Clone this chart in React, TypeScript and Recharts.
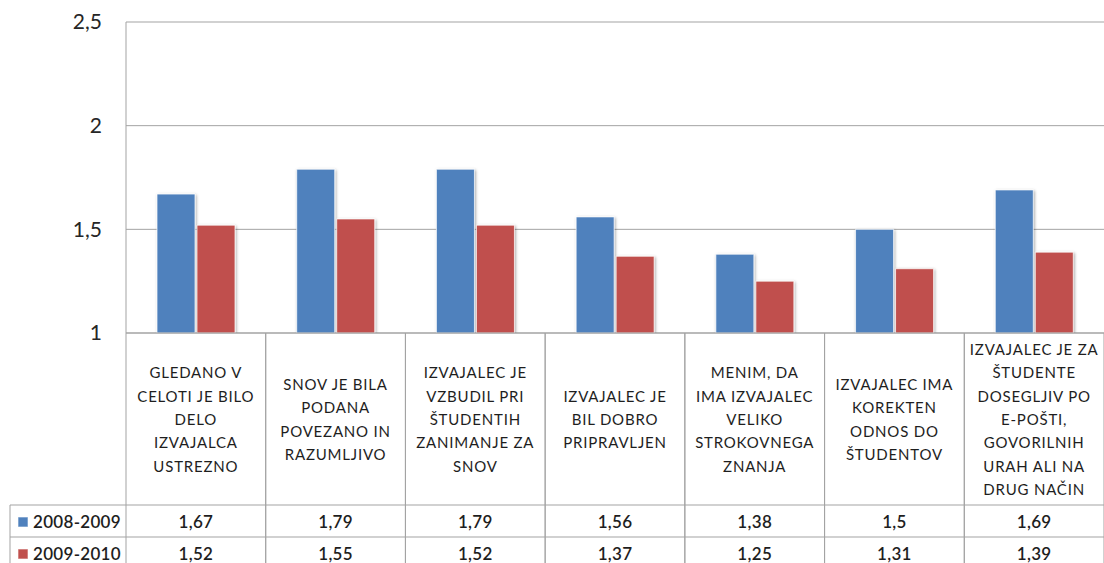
import { Bar, BarChart, CartesianGrid, XAxis, YAxis } from 'recharts'

const CATEGORIES = [
  'GLEDANO V\nCELOTI JE BILO\nDELO\nIZVAJALCA\nUSTREZNO',
  'SNOV JE BILA\nPODANA\nPOVEZANO IN\nRAZUMLJIVO',
  'IZVAJALEC JE\nVZBUDIL PRI\nŠTUDENTIH\nZANIMANJE ZA\nSNOV',
  'IZVAJALEC JE\nBIL DOBRO\nPRIPRAVLJEN',
  'MENIM, DA\nIMA IZVAJALEC\nVELIKO\nSTROKOVNEGA\nZNANJA',
  'IZVAJALEC IMA\nKOREKTEN\nODNOS DO\nŠTUDENTOV',
  'IZVAJALEC JE ZA\nŠTUDENTE\nDOSEGLJIV PO\nE-POŠTI,\nGOVORILNIH\nURAH ALI NA\nDRUG NAČIN',
]
const SERIES_NAMES = ['2008-2009', '2009-2010']
const SERIES_COLORS = ['#4F81BD', '#C0504D']
const VALUES_2008_2009 = [1.67, 1.79, 1.79, 1.56, 1.38, 1.5, 1.69]
const VALUES_2009_2010 = [1.52, 1.55, 1.52, 1.37, 1.25, 1.31, 1.39]
const Y_TICKS = [1, 1.5, 2, 2.5]

const SERIES_VALUES = [VALUES_2008_2009, VALUES_2009_2010]

const data = CATEGORIES.map((name, i) => ({
  name,
  s0: VALUES_2008_2009[i],
  s1: VALUES_2009_2010[i],
}))

const FONT = 'Lato, "Open Sans", sans-serif'
const GRID = '#a3a3a3'
const TEXT = '#1e1e1e'

// table layout
const LABEL_ROW_H = 172
const VALUE_ROW_H = 32
const LEGEND_COL_W = 116
const LINE_H = 23.3

const fmt = (v: number) => String(v).replace('.', ',')

function TableTick(props: any) {
  const { x, y, payload } = props
  const i: number = payload?.index ?? props.index ?? 0
  const half: number = payload?.offset || 70
  const left = x - half
  const right = x + half
  const lines = CATEGORIES[i].split('\n')
  const labelCenter = y + LABEL_ROW_H / 2
  const row1 = y + LABEL_ROW_H
  const row2 = row1 + VALUE_ROW_H
  const row3 = row2 + VALUE_ROW_H
  const bottom = y + 240

  return (
    <g>
      {/* cell borders */}
      <line x1={right} y1={y} x2={right} y2={bottom} stroke={GRID} />
      <line x1={left} y1={y} x2={left} y2={bottom} stroke={GRID} />
      <line x1={left} y1={row1} x2={right} y2={row1} stroke={GRID} />
      <line x1={left} y1={row2} x2={right} y2={row2} stroke={GRID} />
      <line x1={left} y1={row3} x2={right} y2={row3} stroke={GRID} />

      {/* category label */}
      <text
        textAnchor="middle"
        fontFamily={FONT}
        fontSize={15}
        letterSpacing={0.8}
        fill={TEXT}
      >
        {lines.map((ln, k) => (
          <tspan
            key={k}
            x={x}
            y={labelCenter + (k - (lines.length - 1) / 2) * LINE_H}
            dominantBaseline="central"
          >
            {ln}
          </tspan>
        ))}
      </text>

      {/* values */}
      {SERIES_VALUES.map((vals, s) => (
        <text
          key={s}
          x={x}
          y={row1 + VALUE_ROW_H * s + VALUE_ROW_H / 2}
          textAnchor="middle"
          dominantBaseline="central"
          fontFamily={FONT}
          fontSize={17}
          fontWeight={600}
          letterSpacing={0.3}
          fill={TEXT}
        >
          {fmt(vals[i])}
        </text>
      ))}

      {/* legend column, drawn once */}
      {i === 0 && (
        <g>
          <line x1={left - LEGEND_COL_W} y1={row1} x2={left} y2={row1} stroke={GRID} />
          <line x1={left - LEGEND_COL_W} y1={row2} x2={left} y2={row2} stroke={GRID} />
          <line x1={left - LEGEND_COL_W} y1={row3} x2={left} y2={row3} stroke={GRID} />
          <line x1={left - LEGEND_COL_W} y1={row1} x2={left - LEGEND_COL_W} y2={bottom} stroke={GRID} />
          {SERIES_NAMES.map((name, s) => {
            const cy = row1 + VALUE_ROW_H * s + VALUE_ROW_H / 2
            return (
              <g key={name}>
                <rect
                  x={left - LEGEND_COL_W + 8}
                  y={cy - 4}
                  width={10}
                  height={10}
                  fill={SERIES_COLORS[s]}
                  stroke="#ffffff"
                  strokeOpacity={0.6}
                />
                <text
                  x={left - LEGEND_COL_W + 23}
                  y={cy}
                  dominantBaseline="central"
                  fontFamily={FONT}
                  fontSize={17}
                  fontWeight={600}
                  letterSpacing={0.3}
                  fill={TEXT}
                >
                  {name}
                </text>
              </g>
            )
          })}
        </g>
      )}
    </g>
  )
}

export default function App() {
  return (
    <div style={{ position: 'absolute', left: 0, top: 0, background: '#fff', fontFamily: FONT }}>
      <BarChart
        width={1104}
        height={563}
        data={data}
        margin={{ top: 22, right: 0, left: 0, bottom: 0 }}
        barGap={2}
      >
        <defs>
          <filter id="barShadow" x="-20%" y="-10%" width="140%" height="120%">
            <feDropShadow dx="1" dy="1" stdDeviation="1.8" floodColor="#000" floodOpacity="0.35" />
          </filter>
        </defs>
        <CartesianGrid vertical={false} stroke={GRID} />
        <XAxis
          dataKey="name"
          height={230}
          interval={0}
          tickSize={0}
          tickMargin={0}
          tickLine={false}
          axisLine={{ stroke: GRID }}
          tick={<TableTick />}
        />
        <YAxis
          width={126}
          domain={[1, 2.5]}
          ticks={Y_TICKS}
          allowDataOverflow
          tickFormatter={fmt}
          tickLine={false}
          tickSize={0}
          tickMargin={24}
          axisLine={{ stroke: GRID }}
          tick={{ fontSize: 21, fill: '#262626', fontFamily: FONT }}
        />
        {SERIES_NAMES.map((name, s) => (
          <Bar
            key={name}
            dataKey={`s${s}`}
            name={name}
            fill={SERIES_COLORS[s]}
            barSize={38}
            stroke="#ffffff"
            strokeOpacity={0.7}
            filter="url(#barShadow)"
            isAnimationActive={false}
          />
        ))}
      </BarChart>
    </div>
  )
}
